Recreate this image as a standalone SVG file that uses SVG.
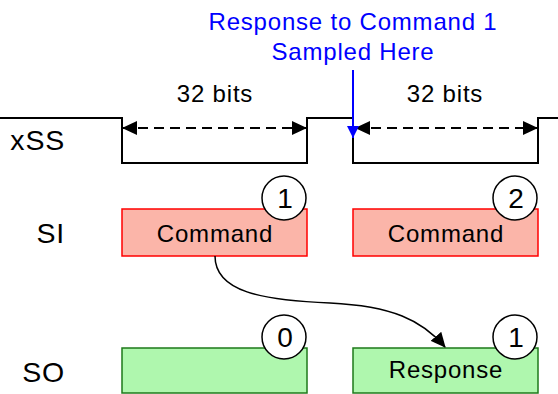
<svg xmlns="http://www.w3.org/2000/svg" width="558" height="394" viewBox="0 0 558 394">
<style>
text{font-family:"Liberation Sans",Arial,sans-serif;font-size:24px;letter-spacing:0.8px;fill:#000}
.lbl{text-anchor:end;font-size:28.5px}
.mid{text-anchor:middle}
.blue{fill:#0000ff}
.si{fill:#fbb5a9;stroke:#ff0000;stroke-width:1.5}
.so{fill:#aff7ae;stroke:#1e7a1a;stroke-width:1.5}
.num{fill:#fff;stroke:#000;stroke-width:1.5}
.numt{font-size:28px;letter-spacing:0;text-anchor:middle}
.wave{fill:none;stroke:#000;stroke-width:2}
.dash{fill:none;stroke:#000;stroke-width:1.8;stroke-dasharray:10 6}
</style>
<defs>
<marker id="ah" viewBox="0 0 15 14" refX="15" refY="7" markerWidth="15" markerHeight="14" markerUnits="userSpaceOnUse" orient="auto-start-reverse">
<path d="M0,0 L15,7 L0,14 Z" fill="#000"/>
</marker>
<marker id="ahb" viewBox="0 0 12 12" refX="12" refY="6" markerWidth="12" markerHeight="12" markerUnits="userSpaceOnUse" orient="auto">
<path d="M0,0 L12,6 L0,12 Z" fill="#0000ff"/>
</marker>
<marker id="ahc" viewBox="0 0 15 14" refX="14" refY="7" markerWidth="15" markerHeight="14" markerUnits="userSpaceOnUse" orient="auto">
<path d="M0,0 L15,7 L0,14 Z" fill="#000"/>
</marker>
</defs>

<g id="labels">
<text class="lbl" x="65" y="150">xSS</text>
<text class="lbl" x="65" y="243">SI</text>
<text class="lbl" x="65" y="382">SO</text>
</g>

<g id="xss">
<path class="wave" d="M0,118 H122 V163 H307 V118 H353 V163 H538 V118 H558"/>
<text class="mid" x="215" y="102">32 bits</text>
<text class="mid" x="445" y="102">32 bits</text>
</g>

<g id="si1">
<rect class="si" x="122" y="209" width="185" height="47"/>
<text class="mid" x="215" y="242">Command</text>
<circle class="num" cx="284" cy="198" r="22"/>
<text class="numt" x="285" y="208">1</text>
</g>
<g id="si2">
<rect class="si" x="353" y="209" width="185" height="47"/>
<text class="mid" x="446" y="242">Command</text>
<circle class="num" cx="515" cy="198" r="22"/>
<text class="numt" x="516" y="208">2</text>
</g>
<g id="so1">
<rect class="so" x="122" y="348" width="185" height="45"/>
<circle class="num" cx="284" cy="337" r="22"/>
<text class="numt" x="285" y="347">0</text>
</g>
<g id="so2">
<rect class="so" x="353" y="348" width="185" height="45"/>
<text class="mid" x="446" y="378">Response</text>
<circle class="num" cx="515" cy="337" r="22"/>
<text class="numt" x="516" y="347">1</text>
</g>

<g id="note">
<text class="mid blue" x="353" y="30">Response to Command 1</text>
<text class="mid blue" x="353" y="60">Sampled Here</text>
</g>

<g id="connectors">
<line class="dash" x1="122" y1="128" x2="307" y2="128" marker-start="url(#ah)" marker-end="url(#ah)"/>
<line class="dash" x1="355" y1="128" x2="538" y2="128" marker-start="url(#ah)" marker-end="url(#ah)"/>
<line x1="353" y1="70" x2="353" y2="138" stroke="#0000ff" stroke-width="2" marker-end="url(#ahb)"/>
<path d="M215,256 C215,292 262,300 330,303 C392,306 422,320 445,347" fill="none" stroke="#000" stroke-width="1.5" marker-end="url(#ahc)"/>
</g>
</svg>
